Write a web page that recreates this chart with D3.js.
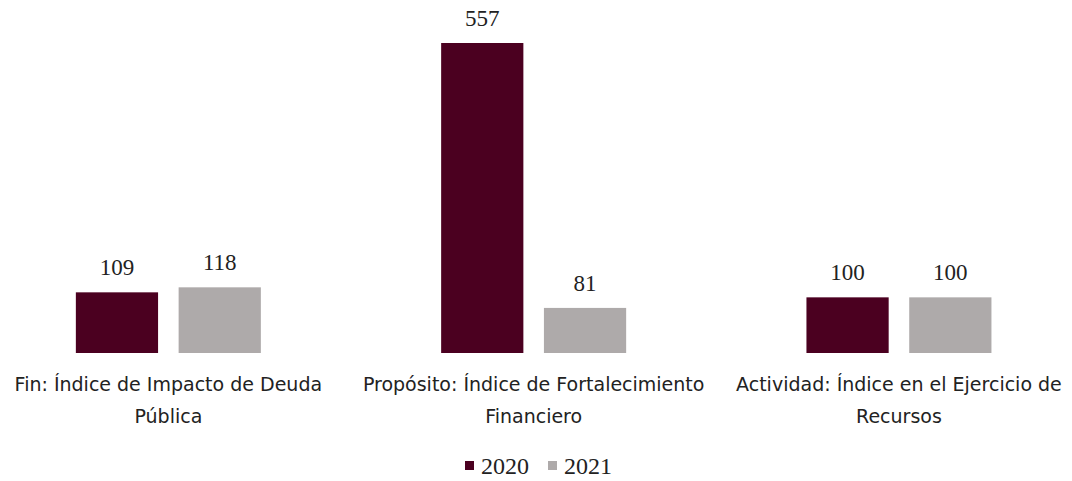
<!DOCTYPE html>
<html>
<head>
<meta charset="utf-8">
<script src="https://cdn.jsdelivr.net/npm/d3@7"></script>
<style>
  body { margin: 0; background: #fff; }
</style>
</head>
<body>
<div id="chart"></div>
<script>
// Chart data
const categories = [
  ["Fin: Índice de Impacto de Deuda", "Pública"],
  ["Propósito: Índice de Fortalecimiento", "Financiero"],
  ["Actividad: Índice en el Ejercicio de", "Recursos"]
];
const years = ["2020", "2021"];
const values2020 = [109, 557, 100];
const values2021 = [118, 81, 100];
const colors = ["#4b0020", "#aeaaaa"];

const width = 1072, height = 481;
const baseline = 353, plotTop = 43;

const data = categories.map((c, i) => ({
  label: c,
  values: [values2020[i], values2021[i]]
}));

const svg = d3.select("#chart")
  .append("svg")
  .attr("width", width)
  .attr("height", height);

// Scales
const x0 = d3.scaleBand()
  .domain(d3.range(categories.length))
  .range([-14.3, 1081.6])
  .paddingInner(0);

const x1 = d3.scaleBand()
  .domain(years)
  .range([0, 185])
  .paddingInner(0.2)
  .paddingOuter(0);

const y = d3.scaleLinear()
  .domain([0, d3.max(values2020.concat(values2021))])
  .range([baseline, plotTop]);

// Bars with value labels
const groups = svg.append("g")
  .selectAll("g")
  .data(data)
  .join("g")
    .attr("transform", (d, i) => `translate(${x0(i) + x0.bandwidth() / 2 - 92.5},0)`);

groups.selectAll("rect")
  .data(d => d.values.map((v, j) => ({year: years[j], value: v, color: colors[j]})))
  .join("rect")
    .attr("x", d => x1(d.year))
    .attr("y", d => y(d.value))
    .attr("width", x1.bandwidth())
    .attr("height", d => y(0) - y(d.value))
    .attr("fill", d => d.color);

groups.selectAll("text.value")
  .data(d => d.values.map((v, j) => ({year: years[j], value: v})))
  .join("text")
    .attr("class", "value")
    .attr("x", d => x1(d.year) + x1.bandwidth() / 2)
    .attr("y", d => y(d.value) - 17)
    .attr("text-anchor", "middle")
    .style("font-family", "'Liberation Serif', 'Times New Roman', serif")
    .style("font-size", "23px")
    .style("fill", "#222")
    .text(d => d.value);

// Category labels
const labels = svg.append("g")
  .selectAll("text")
  .data(data)
  .join("text")
    .attr("x", (d, i) => x0(i) + x0.bandwidth() / 2)
    .attr("y", 391)
    .attr("text-anchor", "middle")
    .style("font-family", "'DejaVu Sans', sans-serif")
    .style("font-size", "19px")
    .style("fill", "#222");

labels.selectAll("tspan")
  .data(d => d.label)
  .join("tspan")
    .attr("x", function() { return this.parentNode.getAttribute("x"); })
    .attr("dy", (d, i) => i === 0 ? 0 : 32)
    .text(d => d);

// Legend
const legend = svg.append("g")
  .selectAll("g")
  .data(years)
  .join("g")
    .attr("transform", (d, i) => `translate(${465 + i * 83},0)`);

legend.append("rect")
  .attr("x", 0)
  .attr("y", 461)
  .attr("width", 9)
  .attr("height", 9)
  .attr("fill", (d, i) => colors[i]);

legend.append("text")
  .attr("x", 16)
  .attr("y", 474)
  .style("font-family", "'Liberation Serif', 'Times New Roman', serif")
  .style("font-size", "24px")
  .style("fill", "#222")
  .text(d => d);
</script>
</body>
</html>
